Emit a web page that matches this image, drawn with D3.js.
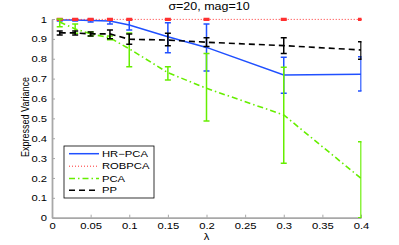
<!DOCTYPE html>
<html><head><meta charset="utf-8">
<script src="https://cdn.jsdelivr.net/npm/d3@7"></script>
<style>
body{margin:0;background:#fff;}
svg{display:block;}
text{font-family:"Liberation Sans",Arial,Helvetica,sans-serif;fill:#000;}
</style></head>
<body><svg id="c" width="399" height="245"></svg>
<script>
const lambda = [0.01,0.03,0.05,0.075,0.1,0.15,0.2,0.3,0.4];
const hrpca   = [0.995,0.995,0.993,0.99,0.97,0.911,0.857,0.718,0.722];
const hrpcaLo = [0.99,0.99,0.985,0.975,0.945,0.830,0.738,0.626,0.638];
const hrpcaHi = [1.0,1.0,1.0,1.0,0.995,0.981,0.975,0.807,0.81];
const robpca   = [0.998,0.998,0.998,0.998,0.998,0.998,0.998,0.998,0.998];
const robpcaLo = [0.995,0.995,0.995,0.995,0.995,0.995,0.995,0.995,0.995];
const robpcaHi = [1.001,1.001,1.001,1.001,1.001,1.001,1.001,1.001,1.001];
const pca   = [0.985,0.95,0.925,0.905,0.85,0.73,0.651,0.517,0.198];
const pcaLo = [0.961,0.928,0.915,0.895,0.76,0.693,0.487,0.274,0.0];
const pcaHi = [1.0,0.975,0.935,0.915,0.93,0.76,0.827,0.757,0.382];
const pp   = [0.93,0.93,0.925,0.925,0.898,0.894,0.883,0.866,0.844];
const ppLo = [0.92,0.92,0.915,0.90,0.873,0.866,0.861,0.827,0.797];
const ppHi = [0.94,0.94,0.935,0.945,0.925,0.928,0.906,0.906,0.886];
const xTicks = [0,0.05,0.1,0.15,0.2,0.25,0.3,0.35,0.4];
const yTicks = [0,0.1,0.2,0.3,0.4,0.5,0.6,0.7,0.8,0.9,1];
const seriesNames = ["HR\u2212PCA","ROBPCA","PCA","PP"];
const titleText = "\u03c3=20, mag=10";

const SX = 1.25;
const svg = d3.select("#c");
const x = d3.scaleLinear().domain([0,0.4]).range([52,361]);
const y = d3.scaleLinear().domain([0,1]).range([217.7,19]);

const styles = [
  {color:"#2050ff", dash:null, w:1.5},
  {color:"#ff3030", dash:"1,2", w:1},
  {color:"#66ee00", dash:"6,3,1.5,3", w:1.6},
  {color:"#000000", dash:"6,4", w:1.6}
];
const series = [
  {v:hrpca, lo:hrpcaLo, hi:hrpcaHi},
  {v:robpca, lo:robpcaLo, hi:robpcaHi},
  {v:pca, lo:pcaLo, hi:pcaHi},
  {v:pp, lo:ppLo, hi:ppHi}
];

// axes
const axisColor = "#a8a8a8";
const yAxis = svg.append("g").attr("transform","translate(52,0)")
  .call(d3.axisLeft(y).tickValues(yTicks).tickSizeInner(-3).tickSizeOuter(0).tickFormat(d3.format("~g")));
const xAxis = svg.append("g").attr("transform","translate(0,217.7)")
  .call(d3.axisBottom(x).tickValues(xTicks).tickSizeInner(-3).tickSizeOuter(0).tickFormat(d3.format("~g")));
[yAxis,xAxis].forEach(a=>{
  a.select(".domain").attr("stroke",axisColor).attr("stroke-width",1.8);
  a.selectAll(".tick line").attr("stroke",axisColor).attr("stroke-width",1);
  a.selectAll("text").attr("font-size",9).attr("fill","#000");
});
yAxis.selectAll(".tick text").attr("x",null).attr("dy",null)
  .attr("text-anchor","end").attr("dominant-baseline","central")
  .attr("transform",`translate(-5,0) scale(${SX},1)`);
xAxis.selectAll(".tick text").attr("y",null).attr("dy",null)
  .attr("text-anchor","middle")
  .attr("transform",`translate(0,11.5) scale(${SX},1)`);

// clip
svg.append("defs").append("clipPath").attr("id","clip")
  .append("rect").attr("x",50).attr("y",16).attr("width",311.5).attr("height",202);

const plot = svg.append("g").attr("clip-path","url(#clip)");
const line = d3.line().x(d=>x(d[0])).y(d=>y(d[1]));
series.forEach((s,i)=>{
  const st = styles[i];
  const g = plot.append("g");
  g.append("path").datum(lambda.map((l,j)=>[l,s.v[j]]))
    .attr("d",line).attr("fill","none").attr("stroke",st.color)
    .attr("stroke-width",st.w).attr("stroke-dasharray",st.dash);
  const eb = g.selectAll(".eb").data(lambda.map((l,j)=>({l,lo:s.lo[j],hi:s.hi[j]}))).join("g");
  const ew = i===1 ? 2 : 1.5;
  eb.append("line").attr("x1",d=>x(d.l)).attr("x2",d=>x(d.l))
    .attr("y1",d=>y(d.lo)).attr("y2",d=>y(d.hi)).attr("stroke",st.color).attr("stroke-width",ew);
  eb.append("line").attr("x1",d=>x(d.l)-3).attr("x2",d=>x(d.l)+3)
    .attr("y1",d=>y(d.lo)).attr("y2",d=>y(d.lo)).attr("stroke",st.color).attr("stroke-width",ew);
  eb.append("line").attr("x1",d=>x(d.l)-3).attr("x2",d=>x(d.l)+3)
    .attr("y1",d=>y(d.hi)).attr("y2",d=>y(d.hi)).attr("stroke",st.color).attr("stroke-width",ew);
});

// title
svg.append("text").attr("text-anchor","middle").attr("font-size",10)
  .attr("transform",`translate(209,10) scale(${SX},1)`).text(titleText);
// axis labels
svg.append("text").attr("text-anchor","middle").attr("font-size",9)
  .attr("transform",`translate(206.5,240) scale(${SX},1)`).text("\u03bb");
svg.append("text").attr("text-anchor","middle").attr("font-size",9)
  .attr("transform",`translate(29,117) scale(${SX},1) rotate(-90)`).text("Expressed Variance");

// legend
const lg = svg.append("g");
lg.append("rect").attr("x",64).attr("y",146).attr("width",90).attr("height",52)
  .attr("fill","#fff").attr("stroke","#000").attr("stroke-width",0.8);
const ly = [153.7,166.2,178.5,190.3];
seriesNames.forEach((n,i)=>{
  const st = styles[i];
  lg.append("line").attr("x1",69).attr("x2",99).attr("y1",ly[i]).attr("y2",ly[i])
    .attr("stroke",st.color).attr("stroke-width",st.w).attr("stroke-dasharray",st.dash);
  lg.append("text").attr("font-size",9).attr("dominant-baseline","central")
    .attr("transform",`translate(102,${ly[i]}) scale(${SX},1)`).text(n);
});
</script></body></html>
